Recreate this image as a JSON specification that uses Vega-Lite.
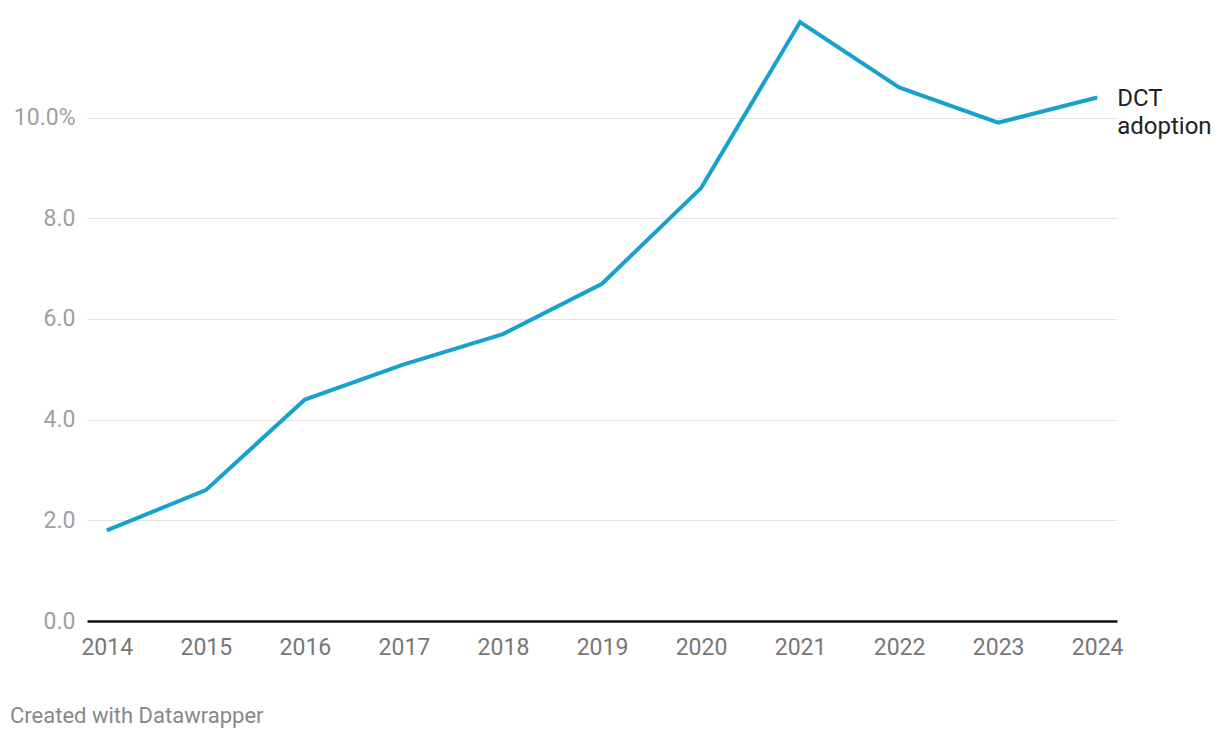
{
  "$schema": "https://vega.github.io/schema/vega-lite/v6.json",
  "width": 1030,
  "height": 599,
  "autosize": "none",
  "padding": {"left": 87, "top": 22, "right": 103, "bottom": 117},
  "background": "white",
  "config": {
    "font": "Roboto",
    "view": {"stroke": null}
  },
  "title": {
    "text": "Created with Datawrapper",
    "orient": "bottom",
    "anchor": "start",
    "frame": "group",
    "dx": -77,
    "offset": 47,
    "fontSize": 22,
    "fontWeight": "normal",
    "color": "#888888",
    "font": "Roboto"
  },
  "data": {
    "values": [
      {"year": 2014, "value": 1.8, "series": "DCT adoption"},
      {"year": 2015, "value": 2.6, "series": "DCT adoption"},
      {"year": 2016, "value": 4.4, "series": "DCT adoption"},
      {"year": 2017, "value": 5.1, "series": "DCT adoption"},
      {"year": 2018, "value": 5.7, "series": "DCT adoption"},
      {"year": 2019, "value": 6.7, "series": "DCT adoption"},
      {"year": 2020, "value": 8.6, "series": "DCT adoption"},
      {"year": 2021, "value": 11.9, "series": "DCT adoption"},
      {"year": 2022, "value": 10.6, "series": "DCT adoption"},
      {"year": 2023, "value": 9.9, "series": "DCT adoption"},
      {"year": 2024, "value": 10.4, "series": "DCT adoption"}
    ]
  },
  "encoding": {
    "x": {
      "field": "year",
      "type": "ordinal",
      "scale": {"type": "point", "padding": 0.2},
      "axis": {
        "title": null,
        "labelAngle": 0,
        "ticks": false,
        "domain": true,
        "domainColor": "#111111",
        "domainWidth": 2.5,
        "labelFontSize": 23,
        "labelColor": "#777777",
        "labelPadding": 15,
        "labelFont": "Roboto"
      }
    },
    "y": {
      "field": "value",
      "type": "quantitative",
      "scale": {"domain": [0, 11.9], "nice": false},
      "axis": {
        "title": null,
        "values": [0, 2, 4, 6, 8, 10],
        "labelExpr": "datum.value == 10 ? '10.0%' : format(datum.value, '.1f')",
        "ticks": false,
        "domain": false,
        "grid": true,
        "gridColor": "#e3e3e3",
        "gridWidth": 1,
        "labelFontSize": 23,
        "labelColor": "#a0a0a0",
        "labelPadding": 12,
        "labelFont": "Roboto"
      }
    }
  },
  "layer": [
    {
      "mark": {"type": "line", "color": "#18a1cd", "strokeWidth": 4, "strokeJoin": "miter"}
    },
    {
      "transform": [{"filter": "datum.year == 2024"}],
      "mark": {
        "type": "text",
        "align": "left",
        "baseline": "alphabetic",
        "dx": 20,
        "dy": 8,
        "fontSize": 24,
        "lineHeight": 28,
        "lineBreak": " ",
        "color": "#222222",
        "font": "Roboto"
      },
      "encoding": {"text": {"field": "series"}}
    }
  ]
}
